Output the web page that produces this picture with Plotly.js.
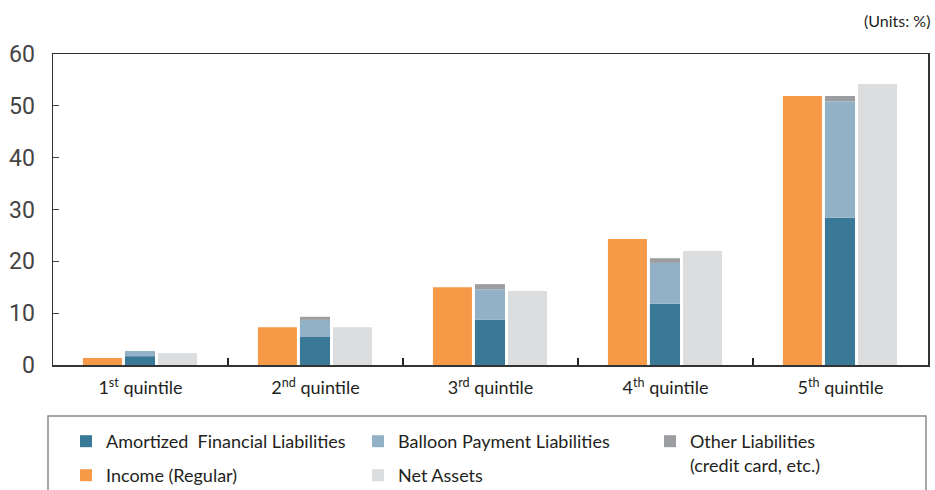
<!DOCTYPE html>
<html>
<head>
<meta charset="utf-8">
<script src="https://cdn.plot.ly/plotly-3.0.1.min.js"></script>
<style>html,body{margin:0;padding:0;background:#fff;}#chart{width:935px;height:490px;}</style>
</head>
<body>
<div id="chart"></div>
<script>
const categories = ["1<sup>st</sup> quintile", "2<sup>nd</sup> quintile", "3<sup>rd</sup> quintile", "4<sup>th</sup> quintile", "5<sup>th</sup> quintile"];
const income = [1.35, 7.3, 15.0, 24.3, 51.9];
const amortized = [1.7, 5.4, 8.7, 11.8, 28.4];
const balloon = [1.0, 3.3, 5.9, 7.9, 22.5];
const other = [0.0, 0.6, 1.0, 0.9, 1.0];
const netAssets = [2.3, 7.3, 14.3, 22.0, 54.2];

const baseBalloon = amortized.slice();
const baseOther = amortized.map((v, i) => v + balloon[i]);

const FONT = "Lato, 'Open Sans', sans-serif";
const NUMFONT = "'Liberation Sans Narrow', Roboto, sans-serif";

const traces = [
  {type: 'bar', name: 'Income (Regular)', x: categories, y: income, offset: -0.329, width: 0.223,
   marker: {color: '#F79A48'}, legend: 'legend2'},
  {type: 'bar', name: 'Amortized  Financial Liabilities', x: categories, y: amortized, base: 0, offset: -0.089, width: 0.172,
   marker: {color: '#3A7897'}, legend: 'legend'},
  {type: 'bar', name: 'Balloon Payment Liabilities', x: categories, y: balloon, base: baseBalloon, offset: -0.089, width: 0.172,
   marker: {color: '#93B1C6'}, legend: 'legend'},
  {type: 'bar', name: 'Other Liabilities<br>(credit card, etc.)', x: categories, y: other, base: baseOther, offset: -0.089, width: 0.172,
   marker: {color: '#9C9DA0'}, legend: 'legend'},
  {type: 'bar', name: 'Net Assets', x: categories, y: netAssets, offset: 0.1, width: 0.223,
   marker: {color: '#DCDDDF'}, legend: 'legend2'}
];

const legendBase = {
  orientation: 'h', xref: 'paper', yref: 'paper',
  xanchor: 'left', yanchor: 'top',
  entrywidth: 247, entrywidthmode: 'pixels',
  borderwidth: 0, bgcolor: 'rgba(0,0,0,0)',
  font: {family: FONT, size: 18, color: '#231F20'},
  valign: 'top', traceorder: 'normal'
};

const layout = {
  width: 935, height: 490,
  margin: {l: 53, r: 7, t: 54, b: 125, autoexpand: false},
  paper_bgcolor: '#fff', plot_bgcolor: '#fff',
  barmode: 'overlay',
  showlegend: true,
  xaxis: {
    type: 'category', range: [-0.5, 4.5], tickson: 'boundaries',
    ticks: 'inside', ticklen: 7, tickcolor: '#222', tickwidth: 1.5,
    showline: true, linecolor: '#333', linewidth: 1.5, mirror: true,
    showgrid: false, zeroline: false,
    tickfont: {family: FONT, size: 18, color: '#231F20'},
    ticklabelstandoff: 6
  },
  yaxis: {
    range: [0, 60], tickvals: [0, 10, 20, 30, 40, 50, 60],
    ticks: 'inside', ticklen: 6, tickcolor: '#444', tickwidth: 1,
    showline: true, linecolor: '#333', linewidth: 1.5, mirror: true,
    showgrid: false, zeroline: false,
    tickfont: {family: NUMFONT, size: 23, color: '#444'},
    ticklabelstandoff: 12
  },
  legend: Object.assign({}, legendBase, {x: 13/875, y: (365 - 423) / 311}),
  legend2: Object.assign({}, legendBase, {x: 13/875, y: (365 - 457) / 311}),
  shapes: [{
    type: 'rect', xref: 'paper', yref: 'paper',
    x0: -5/875, x1: 873/875, y0: (365 - 416) / 311, y1: (365 - 500) / 311,
    line: {color: '#8A8A8A', width: 1.5}, fillcolor: 'rgba(0,0,0,0)', layer: 'below'
  }],
  annotations: [{
    text: '(Units: %)', xref: 'paper', yref: 'paper', x: 1, y: 1, xanchor: 'right', yanchor: 'bottom',
    xshift: 4, yshift: 22, showarrow: false, font: {family: FONT, size: 16, color: '#231F20'}
  }]
};

Plotly.newPlot('chart', traces, layout, {displayModeBar: false, staticPlot: true});
</script>
</body>
</html>
